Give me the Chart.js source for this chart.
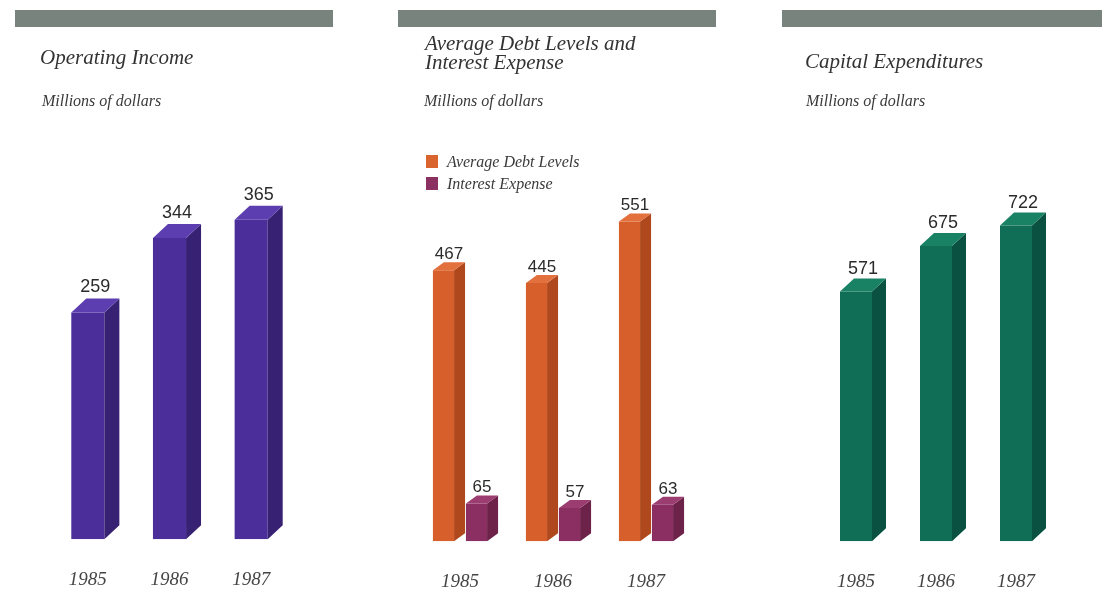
<!DOCTYPE html>
<html>
<head>
<meta charset="utf-8">
<script src="https://cdn.jsdelivr.net/npm/chart.js@4/dist/chart.umd.min.js"></script>
<style>
  html, body { margin: 0; padding: 0; background: #fff; }
  body { width: 1106px; height: 591px; position: relative; overflow: hidden; font-family: "Liberation Serif", serif; }
  .hdr { position: absolute; top: 10px; height: 17px; background: #78837e; }
  .txt { position: absolute; font-style: italic; color: #333; white-space: nowrap; z-index: 2; }
  .title { font-size: 21px; line-height: 20px; }
  .sub { font-size: 16px; line-height: 18px; color: #3a3a3a; }
  .leg { font-size: 16px; line-height: 18px; color: #3a3a3a; }
  .sw { position: absolute; width: 12px; height: 13px; z-index: 2; }
  canvas { position: absolute; top: 0; }
</style>
</head>
<body>
<div class="hdr" style="left:15px;width:318px"></div>
<div class="hdr" style="left:398px;width:318px"></div>
<div class="hdr" style="left:782px;width:320px"></div>

<div class="txt title" style="left:40px;top:47px">Operating Income</div>
<div class="txt sub" style="left:42px;top:92px">Millions of dollars</div>

<div class="txt title" style="left:425px;top:33px">Average Debt Levels and</div>
<div class="txt title" style="left:425px;top:52px">Interest Expense</div>
<div class="txt sub" style="left:424px;top:92px">Millions of dollars</div>
<div class="sw" style="left:426px;top:155px;background:#d9642d"></div>
<div class="txt leg" style="left:447px;top:153px">Average Debt Levels</div>
<div class="sw" style="left:426px;top:177px;background:#8c3062"></div>
<div class="txt leg" style="left:447px;top:175px">Interest Expense</div>

<div class="txt title" style="left:805px;top:51px">Capital Expenditures</div>
<div class="txt sub" style="left:806px;top:92px">Millions of dollars</div>

<canvas id="c1" style="left:0px" width="360" height="620"></canvas>
<canvas id="c2" style="left:360px" width="375" height="622"></canvas>
<canvas id="c3" style="left:740px" width="366" height="622"></canvas>

<script>
// ---- data ----
const years = ['1985', '1986', '1987'];
const operatingIncome = [259, 344, 365];
const avgDebtLevels = [467, 445, 551];
const interestExpense = [65, 57, 63];
const capitalExpenditures = [571, 675, 722];

// ---- 3D bar faces + value labels ----
const bar3d = {
  id: 'bar3d',
  afterDatasetsDraw(chart) {
    const o = chart.options.plugins.bar3d;
    const ctx = chart.ctx;
    chart.data.datasets.forEach((ds, i) => {
      const meta = chart.getDatasetMeta(i);
      meta.data.forEach((bar, j) => {
        const p = bar.getProps(['x', 'y', 'base', 'width'], true);
        const l = p.x - p.width / 2, r = p.x + p.width / 2;
        const t = p.y, b = p.base, dx = o.dx, dy = o.dy;
        ctx.save();
        // side face
        ctx.fillStyle = ds.sideColor;
        ctx.beginPath();
        ctx.moveTo(r, t); ctx.lineTo(r + dx, t - dy); ctx.lineTo(r + dx, b - dy); ctx.lineTo(r, b);
        ctx.closePath(); ctx.fill();
        // top face
        ctx.fillStyle = ds.topColor;
        ctx.beginPath();
        ctx.moveTo(l, t); ctx.lineTo(l + dx, t - dy); ctx.lineTo(r + dx, t - dy); ctx.lineTo(r, t);
        ctx.closePath(); ctx.fill();
        // label
        ctx.fillStyle = '#2b2b2b';
        ctx.font = o.labelSize + 'px "Liberation Sans", Arial, sans-serif';
        ctx.textAlign = 'center';
        ctx.textBaseline = 'alphabetic';
        ctx.fillText(String(ds.data[j]), (l + r + dx) / 2, t - dy - o.gap);
        ctx.restore();
      });
    });
  }
};

function makeChart(id, datasets, pad, ymax, depth, barPct, catPct) {
  return new Chart(document.getElementById(id), {
    type: 'bar',
    data: { labels: years, datasets: datasets },
    plugins: [bar3d],
    options: {
      responsive: false,
      animation: false,
      events: [],
      layout: { padding: pad },
      datasets: { bar: { barPercentage: barPct, categoryPercentage: catPct, borderWidth: 0 } },
      plugins: {
        legend: { display: false },
        tooltip: { enabled: false },
        bar3d: depth
      },
      scales: {
        x: {
          grid: { display: false, drawTicks: false },
          border: { display: false },
          ticks: {
            padding: 29,
            color: '#454545',
            font: { family: '"Liberation Serif", serif', style: 'italic', size: 19 }
          }
        },
        y: { display: false, min: 0, max: ymax }
      }
    }
  });
}

makeChart('c1', [
  { label: 'Operating Income', data: operatingIncome, backgroundColor: '#4b2e99', sideColor: '#372173', topColor: '#5d3eb1' }
], { left: 47, right: 68, top: 189, bottom: 0 }, 400, { dx: 15, dy: 14, gap: 6, labelSize: 18 }, 0.405, 1.0);

makeChart('c2', [
  { label: 'Average Debt Levels', data: avgDebtLevels, backgroundColor: '#d75f2b', sideColor: '#b0481e', topColor: '#e2713d' },
  { label: 'Interest Expense', data: interestExpense, backgroundColor: '#8b2f62', sideColor: '#6c2249', topColor: '#9c3d72' }
], { left: 53.5, right: 42.5, top: 135, bottom: 0 }, 700, { dx: 11, dy: 8, gap: 3, labelSize: 17 }, 0.64, 0.71);

makeChart('c3', [
  { label: 'Capital Expenditures', data: capitalExpenditures, backgroundColor: '#0f6e55', sideColor: '#0a5141', topColor: '#1a8264' }
], { left: 76, right: 50, top: 104, bottom: 0 }, 1000, { dx: 14, dy: 13, gap: 5, labelSize: 18 }, 0.4, 1.0);
</script>
</body>
</html>
